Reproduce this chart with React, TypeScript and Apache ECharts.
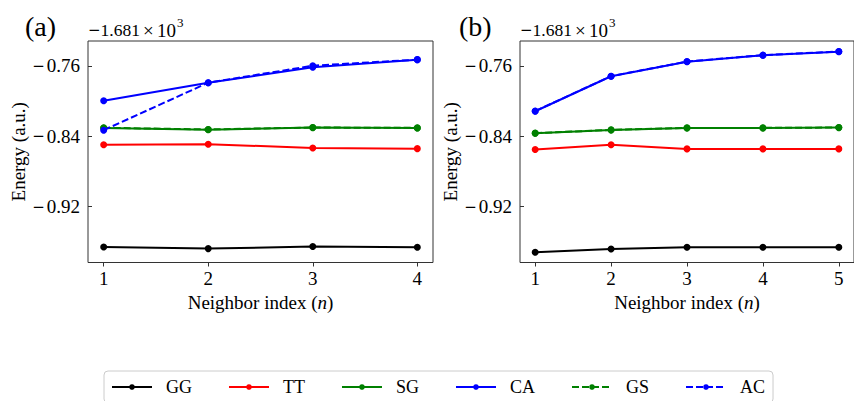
import React, { useEffect, useRef } from "react";
import * as echarts from "echarts";

// Offset (matplotlib style): values shown are relative to -1.681 × 10^3
const xA = [1, 2, 3, 4];
const xB = [1, 2, 3, 4, 5];

const GG_a = [-0.9658, -0.9677, -0.9654, -0.9661];
const TT_a = [-0.8495, -0.849, -0.8532, -0.854];
const SG_a = [-0.8305, -0.8324, -0.8301, -0.8305];
const CA_a = [-0.7995, -0.779, -0.7615, -0.7528];
const GS_a = [-0.8303, -0.8322, -0.83, -0.8304];
const AC_a = [-0.833, -0.779, -0.7597, -0.7528];

const GG_b = [-0.9718, -0.9681, -0.9661, -0.9661, -0.9661];
const TT_b = [-0.855, -0.8495, -0.8543, -0.8543, -0.8543];
const SG_b = [-0.8366, -0.8328, -0.8305, -0.8305, -0.8301];
const CA_b = [-0.8115, -0.7717, -0.7551, -0.7478, -0.7437];
const GS_b = [-0.8364, -0.8327, -0.8304, -0.8304, -0.83];
const AC_b = [-0.8113, -0.7716, -0.755, -0.7477, -0.7436];

const yTicks = [-0.92, -0.84, -0.76];
const names = ["GG", "TT", "SG", "CA", "GS", "AC"];
const colors = ["#000000", "#ff0000", "#008000", "#0000ff", "#008000", "#0000ff"];
const dashed = [false, false, false, false, true, true];

const FONT = "Liberation Serif";
const FS = 19;

export default function App() {
  const ref = useRef<HTMLDivElement>(null);
  useEffect(() => {
    document.body.style.margin = "0";
    const chart = echarts.init(ref.current!, undefined, { renderer: "svg" });
    const seriesA = [GG_a, TT_a, SG_a, CA_a, GS_a, AC_a];
    const seriesB = [GG_b, TT_b, SG_b, CA_b, GS_b, AC_b];
    const mk = (vals: number[], xs: number[], i: number, gi: number) => ({
      type: "line",
      name: names[i],
      xAxisIndex: gi,
      yAxisIndex: gi,
      data: xs.map((x, k) => [x, vals[k]]),
      symbol: "circle",
      symbolSize: 7,
      showSymbol: true,
      color: colors[i],
      lineStyle: { width: 2, color: colors[i], type: dashed[i] ? [7, 3] : "solid" },
      itemStyle: { color: colors[i] },
      z: 2 + i,
      clip: false,
    });
    const minusRich = {
      m: { fontFamily: "DejaVu Serif", fontSize: 15, color: "#000", padding: [0, 2, 0, 0] },
      n: { fontFamily: FONT, fontSize: FS, color: "#000" },
    };
    const offsetRich = {
      m: { fontFamily: "DejaVu Serif", fontSize: 15, color: "#000" },
      n: { fontFamily: FONT, fontSize: 17.5, color: "#000" },
    };
    const axisLine = { show: false };
    const xAxisCommon = (min: number, max: number, ticks: number[]) => ({
      type: "value",
      min,
      max,
      axisLine,
      splitLine: { show: false },
      axisTick: {
        show: true,
        inside: false,
        length: 4,
        customValues: ticks,
        lineStyle: { color: "#333", width: 1 },
      },
      axisLabel: {
        customValues: ticks,
        margin: 6,
        fontFamily: FONT,
        fontSize: FS,
        color: "#000",
      },
      name: "Neighbor index ({i|n})",
      nameLocation: "middle",
      nameGap: 30,
      nameTextStyle: {
        fontFamily: FONT,
        fontSize: FS,
        color: "#000",
        rich: { i: { fontFamily: FONT, fontSize: FS, fontStyle: "italic", color: "#000" } },
      },
    });
    const yAxisCommon = () => ({
      type: "value",
      min: -0.9835,
      max: -0.7316,
      axisLine,
      splitLine: { show: false },
      axisTick: {
        show: true,
        inside: true,
        length: 4,
        customValues: yTicks,
        lineStyle: { color: "#333", width: 1 },
      },
      axisLabel: {
        customValues: yTicks,
        margin: 8,
        fontFamily: FONT,
        fontSize: FS,
        color: "#000",
        formatter: (v: number) => "{m|\u2212}{n|" + Math.abs(v).toFixed(2) + "}",
        rich: minusRich,
      },
      name: "Energy (a.u.)",
      nameLocation: "middle",
      nameGap: 60,
      nameTextStyle: { fontFamily: FONT, fontSize: FS, color: "#000" },
    });
    const offsetTexts = (x0: number) => [
      {
        type: "text",
        x: x0,
        y: 30,
        style: {
          text: "{m|\u2212}{n|1.681}",
          rich: offsetRich,
          font: `${FS}px "${FONT}"`,
          fill: "#000",
          verticalAlign: "middle",
        },
      },
      { type: "text", x: x0 + 55, y: 30, style: { text: "\u00d7", font: `${FS}px "${FONT}"`, fill: "#000", verticalAlign: "middle" } },
      { type: "text", x: x0 + 69, y: 30, style: { text: "10", font: `${FS}px "${FONT}"`, fill: "#000", verticalAlign: "middle" } },
      { type: "text", x: x0 + 89, y: 22, style: { text: "3", font: `13px "${FONT}"`, fill: "#000", verticalAlign: "middle" } },
    ];
    chart.setOption({
      animation: false,
      backgroundColor: "#fff",
      textStyle: { fontFamily: FONT },
      grid: [
        { left: 88, top: 41, width: 345, height: 221.5, show: true, borderColor: "#333", borderWidth: 1, backgroundColor: "transparent" },
        { left: 520, top: 41, width: 344.7, height: 221.5, show: true, borderColor: "#333", borderWidth: 1, backgroundColor: "transparent" },
      ],
      xAxis: [
        { ...xAxisCommon(0.85, 4.15, xA), gridIndex: 0 },
        { ...xAxisCommon(0.8, 5.2, xB), gridIndex: 1 },
      ],
      yAxis: [
        { ...yAxisCommon(), gridIndex: 0 },
        { ...yAxisCommon(), gridIndex: 1 },
      ],
      legend: {
        data: names,
        left: 104,
        top: 371,
        orient: "horizontal",
        padding: [7, 8, 7, 7],
        itemWidth: 40,
        itemHeight: 7,
        itemGap: 36,
        borderColor: "#cccccc",
        borderWidth: 1,
        borderRadius: 4,
        backgroundColor: "#fff",
        textStyle: { fontFamily: FONT, fontSize: 18, color: "#000", padding: [0, 0, 0, 9] },
        itemStyle: { borderWidth: 0 },
      },
      graphic: [
        { type: "text", x: 25, y: 26, style: { text: "(a)", font: `28px "${FONT}"`, fill: "#000", verticalAlign: "middle" } },
        { type: "text", x: 459, y: 26, style: { text: "(b)", font: `28px "${FONT}"`, fill: "#000", verticalAlign: "middle" } },
        ...offsetTexts(88),
        ...offsetTexts(520),
      ],
      series: [
        ...seriesA.map((v, i) => mk(v, xA, i, 0)),
        ...seriesB.map((v, i) => mk(v, xB, i, 1)),
      ],
    });
    return () => chart.dispose();
  }, []);
  return <div ref={ref} style={{ width: 854, height: 401 }} />;
}
